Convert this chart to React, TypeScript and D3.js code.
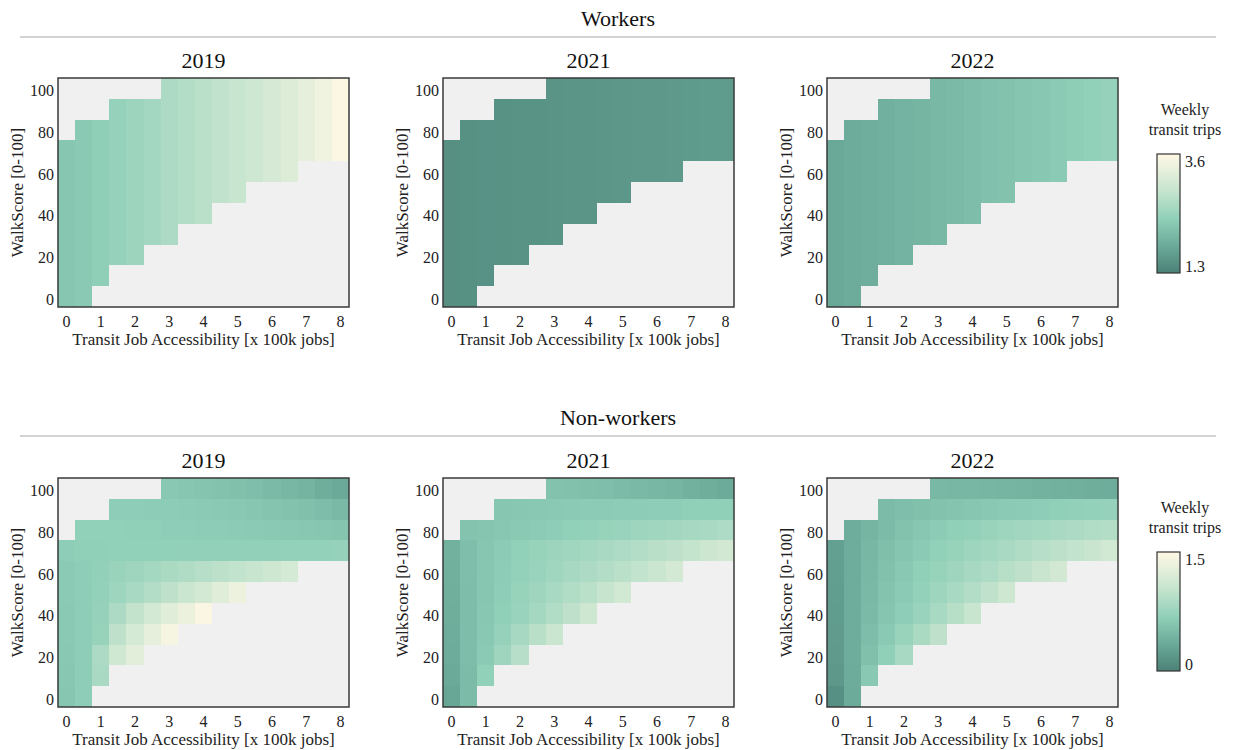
import React, { useEffect, useRef } from "react";
import * as d3 from "d3";

// x categories (transit job accessibility, x100k jobs) and y categories (walkscore, top row first)
const accessibility = [0, 0.5, 1, 1.5, 2, 2.5, 3, 3.5, 4, 4.5, 5, 5.5, 6, 6.5, 7, 7.5, 8];
const walkScores = [100, 90, 80, 70, 60, 50, 40, 30, 20, 10, 0];
// observed accessibility range for each walkscore row
const rowStart = [3, 1.5, 0.5, 0, 0, 0, 0, 0, 0, 0, 0];
const rowEnd = [8, 8, 8, 8, 6.5, 5, 4, 3, 2, 1, 0.5];

const years = ["2019", "2021", "2022"];
const xTicks = [0, 1, 2, 3, 4, 5, 6, 7, 8];
const yTicks = [0, 20, 40, 60, 80, 100];

const workersRange = [1.3, 3.6];
const nonWorkersRange = [0, 1.5];

// workers: weekly trips only change with accessibility (one value per column)
const workers2019 = [2.22, 2.27, 2.33, 2.4, 2.47, 2.55, 2.63, 2.7, 2.77, 2.84, 2.91, 2.99, 3.07, 3.17, 3.28, 3.41, 3.55];
const workers2021 = [1.49, 1.5, 1.51, 1.52, 1.53, 1.53, 1.54, 1.55, 1.56, 1.57, 1.58, 1.59, 1.6, 1.61, 1.63, 1.64, 1.65];
const workers2022 = [1.81, 1.84, 1.88, 1.91, 1.95, 1.98, 2.02, 2.05, 2.09, 2.13, 2.16, 2.2, 2.24, 2.28, 2.32, 2.36, 2.4];

// non-workers: one list per walkscore row (100 -> 0), observed cells left to right
const nonWorkers2019 = [
  [0.62, 0.6, 0.58, 0.56, 0.54, 0.52, 0.49, 0.46, 0.43, 0.38, 0.34],
  [0.67, 0.67, 0.66, 0.66, 0.65, 0.64, 0.63, 0.62, 0.6, 0.58, 0.56, 0.54, 0.51, 0.48],
  [0.69, 0.69, 0.69, 0.68, 0.68, 0.67, 0.67, 0.66, 0.66, 0.65, 0.64, 0.63, 0.62, 0.61, 0.6, 0.58],
  [0.67, 0.68, 0.68, 0.69, 0.69, 0.69, 0.69, 0.7, 0.7, 0.7, 0.7, 0.7, 0.7, 0.71, 0.71, 0.71, 0.72],
  [0.64, 0.67, 0.7, 0.74, 0.78, 0.82, 0.86, 0.89, 0.93, 0.97, 1.01, 1.05, 1.1, 1.16],
  [0.64, 0.67, 0.71, 0.77, 0.84, 0.92, 0.99, 1.07, 1.15, 1.25, 1.35],
  [0.63, 0.67, 0.72, 0.87, 1.02, 1.14, 1.25, 1.34, 1.46],
  [0.63, 0.67, 0.73, 0.99, 1.16, 1.29, 1.42],
  [0.62, 0.67, 0.87, 1.11, 1.27],
  [0.61, 0.67, 0.85],
  [0.6, 0.67],
];
const nonWorkers2021 = [
  [0.56, 0.55, 0.53, 0.52, 0.5, 0.48, 0.46, 0.44, 0.41, 0.38, 0.35],
  [0.6, 0.61, 0.62, 0.63, 0.64, 0.65, 0.65, 0.66, 0.66, 0.67, 0.67, 0.68, 0.68, 0.68],
  [0.57, 0.59, 0.61, 0.63, 0.65, 0.67, 0.69, 0.71, 0.73, 0.75, 0.77, 0.79, 0.81, 0.83, 0.85, 0.88],
  [0.41, 0.52, 0.6, 0.65, 0.69, 0.73, 0.76, 0.79, 0.82, 0.85, 0.88, 0.92, 0.95, 0.99, 1.03, 1.08, 1.13],
  [0.4, 0.52, 0.6, 0.66, 0.71, 0.75, 0.79, 0.83, 0.87, 0.91, 0.96, 1.01, 1.07, 1.14],
  [0.39, 0.51, 0.6, 0.67, 0.73, 0.78, 0.84, 0.9, 0.96, 1.04, 1.12],
  [0.38, 0.51, 0.61, 0.68, 0.75, 0.82, 0.9, 0.99, 1.1],
  [0.37, 0.51, 0.62, 0.72, 0.83, 0.95, 1.07],
  [0.36, 0.51, 0.64, 0.78, 0.93],
  [0.34, 0.5, 0.69],
  [0.31, 0.5],
];
const nonWorkers2022 = [
  [0.47, 0.46, 0.46, 0.45, 0.44, 0.43, 0.42, 0.41, 0.4, 0.38, 0.37],
  [0.5, 0.52, 0.54, 0.56, 0.58, 0.6, 0.62, 0.64, 0.65, 0.67, 0.68, 0.7, 0.71, 0.72],
  [0.37, 0.44, 0.5, 0.56, 0.61, 0.65, 0.68, 0.71, 0.74, 0.77, 0.8, 0.82, 0.85, 0.87, 0.9, 0.92],
  [0.26, 0.37, 0.46, 0.53, 0.59, 0.64, 0.69, 0.73, 0.77, 0.81, 0.85, 0.89, 0.93, 0.97, 1.01, 1.06, 1.12],
  [0.25, 0.37, 0.47, 0.55, 0.62, 0.68, 0.73, 0.78, 0.83, 0.88, 0.94, 0.99, 1.06, 1.13],
  [0.24, 0.37, 0.48, 0.57, 0.64, 0.71, 0.77, 0.84, 0.91, 1.0, 1.1],
  [0.23, 0.37, 0.49, 0.59, 0.67, 0.75, 0.84, 0.94, 1.05],
  [0.22, 0.37, 0.51, 0.63, 0.74, 0.86, 0.99],
  [0.21, 0.37, 0.54, 0.68, 0.84],
  [0.19, 0.36, 0.62],
  [0.12, 0.35],
];

const FONT = "Liberation Serif";
const PW = 291;
const PH = 229;
const panelLefts = [58, 443, 827];
const cmapPos = [0, 0.2, 0.45, 0.7, 1];
const cmapColors = ["#4b8177", "#67a595", "#8fcfb8", "#c8e5cf", "#fff8e5"];

// spread the per-column worker values over the observed cells
const columnsToGrid = (cols) =>
  walkScores.map((w, r) => {
    const s = accessibility.indexOf(rowStart[r]);
    const e = accessibility.indexOf(rowEnd[r]);
    return cols.slice(s, e + 1);
  });

const makeColor = (range) => {
  const t = d3.scaleLinear().domain(range).range([0, 1]).clamp(true);
  const cmap = d3.scaleLinear().domain(cmapPos).range(cmapColors).interpolate(d3.interpolateRgb);
  return (v) => cmap(t(v));
};

const drawPanel = (svg, left, top, grid, color, title) => {
  const x = d3.scaleLinear().domain([-0.25, 8.25]).range([left, left + PW]);
  const y = d3.scaleLinear().domain([-5, 105]).range([top + PH, top]);
  const g = svg.append("g");

  g.append("rect")
    .attr("x", left).attr("y", top).attr("width", PW).attr("height", PH)
    .attr("fill", "#f0f0f0");

  const cells = [];
  grid.forEach((row, r) => {
    const s = accessibility.indexOf(rowStart[r]);
    row.forEach((v, k) => cells.push({ a: accessibility[s + k], w: walkScores[r], v }));
  });

  g.selectAll(".cell")
    .data(cells)
    .enter().append("rect")
    .attr("class", "cell")
    .attr("x", (d) => x(d.a - 0.25))
    .attr("y", (d) => y(d.w + 5))
    .attr("width", x(0.25) - x(-0.25))
    .attr("height", y(-5) - y(5))
    .attr("fill", (d) => color(d.v))
    .attr("shape-rendering", "crispEdges");

  g.append("rect")
    .attr("x", left).attr("y", top).attr("width", PW).attr("height", PH)
    .attr("fill", "none").attr("stroke", "#3a3a3a").attr("stroke-width", 1.5);

  g.selectAll(".xt")
    .data(xTicks)
    .enter().append("text")
    .attr("x", (d) => x(d))
    .attr("y", top + PH + 20)
    .attr("text-anchor", "middle")
    .attr("font-size", 16)
    .attr("fill", "#222")
    .text((d) => d);

  g.selectAll(".yt")
    .data(yTicks)
    .enter().append("text")
    .attr("x", left - 4)
    .attr("y", (d) => y(d) + 8)
    .attr("text-anchor", "end")
    .attr("font-size", 16)
    .attr("fill", "#222")
    .text((d) => d);

  g.append("text")
    .attr("x", left + PW / 2)
    .attr("y", top - 10)
    .attr("text-anchor", "middle")
    .attr("font-size", 22)
    .attr("fill", "#111")
    .text(title);

  g.append("text")
    .attr("x", left + PW / 2)
    .attr("y", top + PH + 38)
    .attr("text-anchor", "middle")
    .attr("font-size", 17)
    .attr("fill", "#222")
    .text("Transit Job Accessibility [x 100k jobs]");

  g.append("text")
    .attr("transform", "translate(" + (left - 35) + "," + (top + PH / 2) + ") rotate(-90)")
    .attr("text-anchor", "middle")
    .attr("font-size", 17)
    .attr("fill", "#222")
    .text("WalkScore [0-100]");
};

const drawColorbar = (svg, id, top, range, color) => {
  const left = 1157, w = 23, h = 119;
  const grad = svg.append("defs").append("linearGradient")
    .attr("id", id).attr("x1", 0).attr("y1", 1).attr("x2", 0).attr("y2", 0);
  d3.range(0, 1.0001, 0.05).forEach((t) => {
    grad.append("stop")
      .attr("offset", t)
      .attr("stop-color", color(range[0] + t * (range[1] - range[0])));
  });
  svg.append("rect")
    .attr("x", left).attr("y", top).attr("width", w).attr("height", h)
    .attr("fill", "url(#" + id + ")")
    .attr("stroke", "#333").attr("stroke-width", 1.2);

  svg.append("text").attr("x", 1185).attr("y", top - 39)
    .attr("text-anchor", "middle").attr("font-size", 16).attr("fill", "#222")
    .text("Weekly");
  svg.append("text").attr("x", 1185).attr("y", top - 19)
    .attr("text-anchor", "middle").attr("font-size", 16).attr("fill", "#222")
    .text("transit trips");

  const cb = d3.scaleLinear().domain(range).range([top + h, top]);
  svg.selectAll(".cbl-" + id)
    .data(range)
    .enter().append("text")
    .attr("x", left + w + 5)
    .attr("y", (d, i) => (i === 0 ? cb(d) - 1 : cb(d) + 13))
    .attr("font-size", 16)
    .attr("fill", "#222")
    .text((d) => (d === 0 ? "0" : d3.format(".1f")(d)));
};

const App = () => {
  const ref = useRef(null);

  useEffect(() => {
    const svg = d3.select(ref.current);
    svg.selectAll("*").remove();

    const workerColor = makeColor(workersRange);
    const nonWorkerColor = makeColor(nonWorkersRange);
    const workerGrids = [workers2019, workers2021, workers2022].map(columnsToGrid);
    const nonWorkerGrids = [nonWorkers2019, nonWorkers2021, nonWorkers2022];

    const sections = [
      { label: "Workers", baseline: 26, line: 37, top: 78, grids: workerGrids, color: workerColor, range: workersRange, cbTop: 154 },
      { label: "Non-workers", baseline: 425, line: 436, top: 478, grids: nonWorkerGrids, color: nonWorkerColor, range: nonWorkersRange, cbTop: 552 },
    ];

    sections.forEach((s, si) => {
      svg.append("text")
        .attr("x", 618).attr("y", s.baseline)
        .attr("text-anchor", "middle").attr("font-size", 22).attr("fill", "#111")
        .text(s.label);
      svg.append("line")
        .attr("x1", 20).attr("x2", 1216).attr("y1", s.line).attr("y2", s.line)
        .attr("stroke", "#c4c4c4").attr("stroke-width", 1.5);
      s.grids.forEach((grid, i) => drawPanel(svg, panelLefts[i], s.top, grid, s.color, years[i]));
      drawColorbar(svg, "cb" + si, s.cbTop, s.range, s.color);
    });
  }, []);

  return (
    <svg
      ref={ref}
      width={1236}
      height={750}
      style={{ position: "absolute", left: 0, top: 0, background: "#fff", fontFamily: FONT }}
    />
  );
};

export default App;
